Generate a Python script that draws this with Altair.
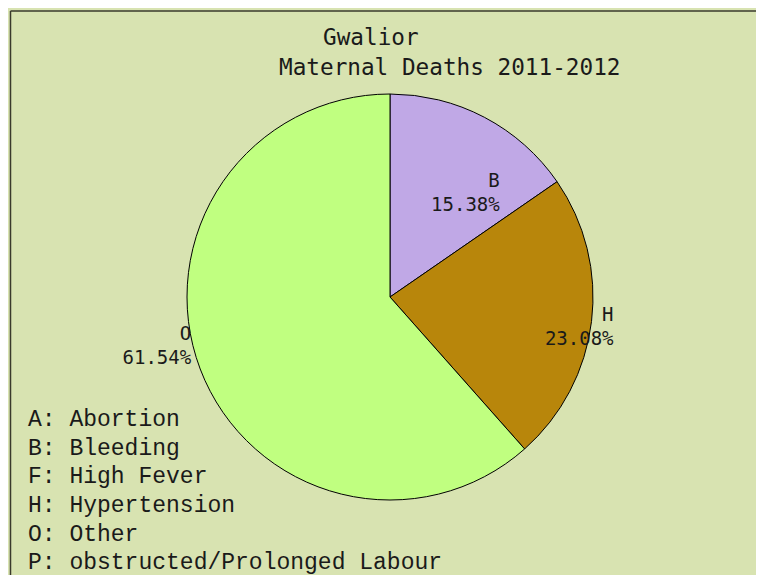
import altair as alt
import pandas as pd

# ---- data ----
codes = ["A", "B", "F", "H", "O", "P"]
causes = ["Abortion", "Bleeding", "High Fever", "Hypertension", "Other",
          "obstructed/Prolonged Labour"]
deaths = [0, 2, 0, 3, 8, 0]

title_line1 = "Gwalior"
title_line2 = "Maternal Deaths 2011-2012"

slice_codes = ["B", "H", "O"]
slice_colors = ["#c0a8e6", "#b8860b", "#c0ff80"]

df = pd.DataFrame({"code": codes, "cause": causes, "deaths": deaths})
df["legend"] = df["code"] + ": " + df["cause"]

BG = "#d8e3b1"
W, H = 748, 567
CX, CY, R = 382, 289, 203
LINE = "#3a3a2c"
TXT = "#1a1a1a"

base = alt.Chart(df)

pie = base.transform_filter("datum.deaths > 0").mark_arc(
    stroke="black", strokeWidth=1
).encode(
    theta=alt.Theta("deaths:Q", stack=True),
    color=alt.Color("code:N", scale=alt.Scale(domain=slice_codes, range=slice_colors), legend=None),
    order=alt.Order("code:N"),
    x=alt.value(CX), y=alt.value(CY),
    radius=alt.value(R),
)

labels_base = base.transform_filter("datum.deaths > 0").transform_joinaggregate(
    total="sum(deaths)"
).transform_window(
    cum="sum(deaths)", sort=[alt.SortField("code")]
).transform_calculate(
    mid="(datum.cum - datum.deaths / 2) / datum.total",
    lab="datum.code + '\\n' + format(datum.deaths / datum.total * 100, '.2f') + '%'",
)

def label_layer(code, r, dx, dy):
    return labels_base.transform_filter(f"datum.code == '{code}'").mark_text(
        align="right", baseline="alphabetic", dx=dx, dy=dy,
        font="DejaVu Sans Mono", fontSize=19, lineBreak="\n", lineHeight=24,
        color=TXT,
    ).encode(
        theta=alt.Theta("mid:Q", stack=False, scale=alt.Scale(domain=[0, 1])),
        radius=alt.value(r),
        x=alt.value(CX), y=alt.value(CY),
        text="lab:N",
    )

lab_b = label_layer("B", 150, 40, 23)
lab_h = label_layer("H", 203, 22, 0)
lab_o = label_layer("O", 203, -9, -29)

legend_text = base.mark_text(
    align="left", baseline="alphabetic", font="Liberation Mono", fontSize=23, color=TXT
).encode(
    x=alt.value(20),
    y=alt.Y("code:N", scale=alt.Scale(domain=codes, range=[418, 561.3], padding=0), axis=None),
    text="legend:N",
)

one = pd.DataFrame({"t1": [title_line1], "t2": [title_line2]})
t1 = alt.Chart(one).mark_text(
    align="left", baseline="alphabetic", font="DejaVu Sans Mono", fontSize=22.7, color=TXT
).encode(x=alt.value(315), y=alt.value(37), text="t1:N")
t2 = alt.Chart(one).mark_text(
    align="left", baseline="alphabetic", font="DejaVu Sans Mono", fontSize=22.7, color=TXT
).encode(x=alt.value(271), y=alt.value(67), text="t2:N")

top_rule = alt.Chart(one).mark_rule(color=LINE, strokeWidth=1.5).encode(
    x=alt.value(2.5), x2=alt.value(W), y=alt.value(3)
)
left_rule = alt.Chart(one).mark_rule(color=LINE, strokeWidth=1.5).encode(
    x=alt.value(2.5), y=alt.value(3), y2=alt.value(H)
)

chart = alt.layer(
    top_rule, left_rule, pie, lab_b, lab_h, lab_o, legend_text, t1, t2
).resolve_scale(
    theta="independent"
).properties(
    width=W, height=H, padding=0,
    autosize=alt.AutoSizeParams(type="fit", contains="padding"),
    background=BG,
).configure_view(stroke=None)

chart.save("out.html", embed_options={"renderer": "svg", "actions": False})
